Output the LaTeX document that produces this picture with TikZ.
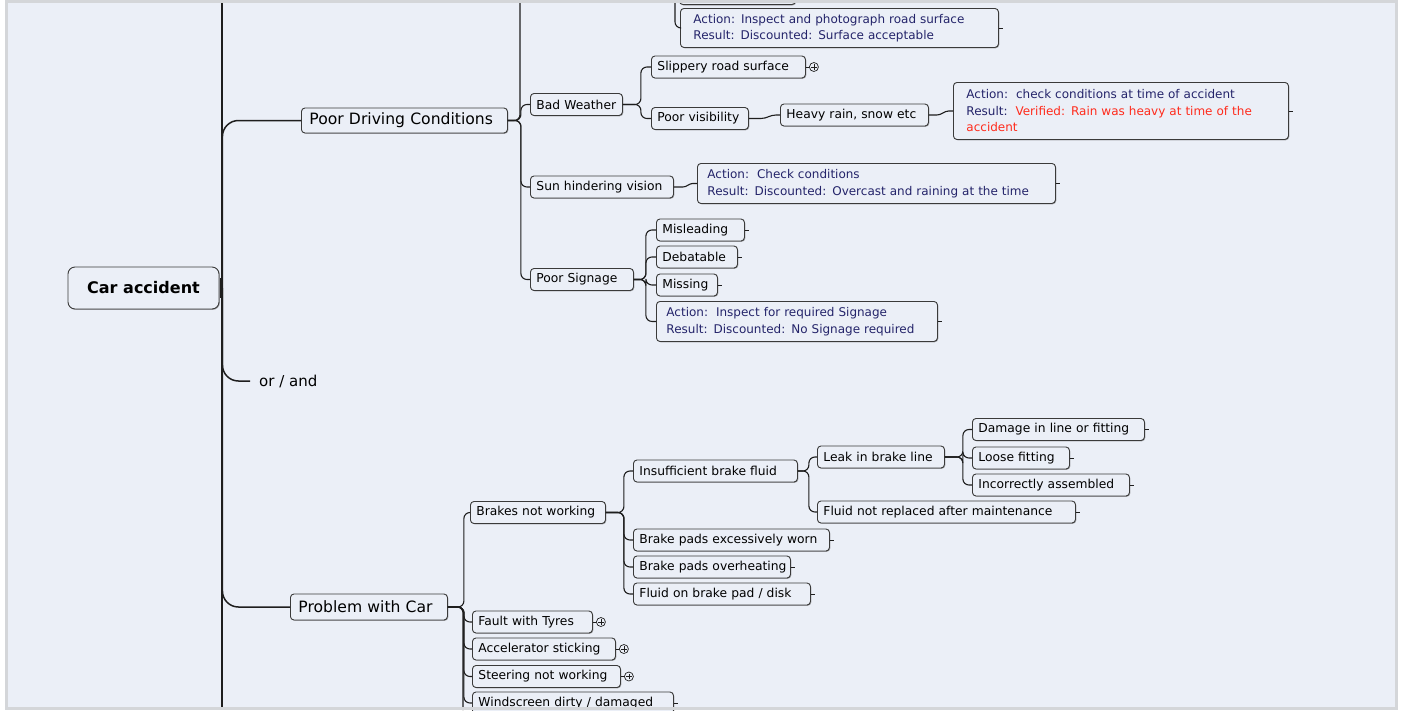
\documentclass[tikz,border=0pt]{standalone}
\usepackage{fontspec}
\setmainfont{DejaVu Sans}
\usetikzlibrary{shadows,calc}
\definecolor{bgc}{HTML}{EBEFF7}
\definecolor{framec}{HTML}{D4D6D9}
\definecolor{navy}{HTML}{24246A}
\definecolor{redt}{HTML}{FF2B1C}
\definecolor{ink}{HTML}{1E1E1E}
\definecolor{boxline}{HTML}{3A3A3A}
\begin{document}
\begin{tikzpicture}[x=1pt,y=-1pt,
  conn/.style={draw=ink, line width=1.1pt, rounded corners=6pt},
  sconn/.style={draw=ink, line width=1.1pt},
  mainconn/.style={draw=ink, line width=1.5pt, rounded corners=16pt},
  stub/.style={draw=ink, line width=0.9pt},
  boxbase/.style={draw=boxline, line width=0.9pt, rounded corners=3.5pt, fill=bgc,
    drop shadow={shadow xshift=0.8pt, shadow yshift=-0.8pt, fill=black!60, opacity=0.55}},
  nb/.style={boxbase, anchor=west, align=left, inner xsep=6pt, inner ysep=0pt,
    minimum height=22pt, font=\fontsize{12.3}{14}\selectfont, text=black},
  bignode/.style={boxbase, anchor=west, align=left, inner xsep=8pt, inner ysep=0pt,
    font=\fontsize{15.6}{18}\selectfont, text=black},
  ab/.style={boxbase, anchor=north west, align=left, inner ysep=0pt,
    font=\fontsize{12}{16.5}\selectfont, text=navy},
  plusc/.style={circle, draw=ink, line width=0.7pt, minimum size=9pt, inner sep=0pt,
    path picture={\draw[line width=0.7pt] ([xshift=-2.6pt]path picture bounding box.center) -- ([xshift=2.6pt]path picture bounding box.center)
      ([yshift=-2.6pt]path picture bounding box.center) -- ([yshift=2.6pt]path picture bounding box.center);}}
]
\useasboundingbox (0,0) rectangle (1401,710);
\fill[white] (0,0) rectangle (1401,710);
\fill[bgc] (6.5,1.5) rectangle (1396.5,708.5);

% ---------- nodes ----------
\node[boxbase, rounded corners=7pt, minimum width=151pt, minimum height=42pt, inner sep=0pt,
  font=\bfseries\fontsize{16}{18}\selectfont] (root) at (143.5,288) {Car accident};

\node[bignode, text width=190pt, minimum height=25pt] (pdc) at (301,120.5) {\mbox{Poor Driving Conditions}};
\node[anchor=west, inner xsep=9pt, inner ysep=0pt, font=\fontsize{15}{18}\selectfont] (oa) at (250,381) {or / and};
\node[bignode, text width=141pt, minimum height=26pt] (pwc) at (290,607) {\mbox{Problem with Car}};

% cut-off node at top
\node[nb, anchor=south west, text width=104pt] (cut) at (679,5) {};

\node[ab, inner xsep=13pt, text width=292pt, minimum height=39pt] (a1) at (680,8)
  {\mbox{Action: Inspect and photograph road surface}\\\mbox{Result: Discounted: Surface acceptable}};
\node[nb, text width=80pt] (bw) at (530,104.5) {\mbox{Bad Weather}};
\node[nb, text width=142pt] (srs) at (651,67) {\mbox{Slippery road surface}};
\node[nb, text width=85pt] (pv) at (651,118.5) {\mbox{Poor visibility}};
\node[nb, text width=136pt] (hr) at (780,115) {\mbox{Heavy rain, snow etc}};
\node[ab, inner xsep=13pt, text width=309pt, minimum height=57pt] (a2) at (953,82)
  {\mbox{Action:\ \ check conditions at time of accident}\\\mbox{Result:\ \ \textcolor{redt}{Verified: Rain was heavy at time of the}}\\\mbox{\textcolor{redt}{accident}}};
\node[nb, text width=131pt] (shv) at (530,187) {\mbox{Sun hindering vision}};
\node[ab, inner xsep=10pt, text width=338pt, minimum height=40pt] (a3) at (697,163)
  {\mbox{Action:\ \ Check conditions}\\\mbox{Result: Discounted: Overcast and raining at the time}};
\node[nb, text width=91pt] (ps) at (530,279.5) {\mbox{Poor Signage}};
\node[nb, text width=76pt] (mis) at (656,230) {\mbox{Misleading}};
\node[nb, text width=69pt] (deb) at (656,257) {\mbox{Debatable}};
\node[nb, text width=49pt] (miss) at (656,285) {\mbox{Missing}};
\node[ab, inner xsep=10pt, text width=261pt, minimum height=40pt] (a4) at (656,301)
  {\mbox{Action:\ \ Inspect for required Signage}\\\mbox{Result: Discounted: No Signage required}};

\node[nb, text width=123pt] (bnw) at (470,512.5) {\mbox{Brakes not working}};
\node[nb, text width=108pt] (fwt) at (472,622) {\mbox{Fault with Tyres}};
\node[nb, text width=131pt] (acc) at (472,649) {\mbox{Accelerator sticking}};
\node[nb, text width=136pt] (snw) at (472,676.5) {\mbox{Steering not working}};
\node[nb, text width=189pt] (wdd) at (472,703) {\mbox{Windscreen dirty / damaged}};
\node[nb, text width=152pt] (ibf) at (633,471) {\mbox{Insufficient brake fluid}};
\node[nb, text width=184pt] (bpew) at (633,540) {\mbox{Brake pads excessively worn}};
\node[nb, text width=145pt] (bpo) at (633,567) {\mbox{Brake pads overheating}};
\node[nb, text width=165pt] (fobp) at (633,594) {\mbox{Fluid on brake pad / disk}};
\node[nb, text width=115pt] (lbl) at (817,457) {\mbox{Leak in brake line}};
\node[nb, text width=246pt] (fnr) at (817,512) {\mbox{Fluid not replaced after maintenance}};
\node[nb, text width=160pt] (dlf) at (972,429.5) {\mbox{Damage in line or fitting}};
\node[nb, text width=85pt] (lf) at (972,458) {\mbox{Loose fitting}};
\node[nb, text width=145pt] (ia) at (972,485) {\mbox{Incorrectly assembled}};

% plus icons
\node[plusc] (srsp) at ($(srs.east)+(8,0)$) {};
\node[plusc] (fwtp) at ($(fwt.east)+(8,0)$) {};
\node[plusc] (accp) at ($(acc.east)+(8,0)$) {};
\node[plusc] (snwp) at ($(snw.east)+(8,0)$) {};

% ---------- connectors ----------
\coordinate (mtop) at (222,3);
\coordinate (mbot) at (222,709);
\draw[ink, line width=1.8pt] (mtop) -- (mbot);
\draw[ink, line width=3.5pt] ([xshift=2pt,yshift=10pt]root.east) -- ([xshift=2pt,yshift=-10pt]root.east);
\draw[mainconn] ($(root.east)+(3,0)$) |- (pdc.west);
\draw[mainconn] ($(root.east)+(3,0)$) |- (oa.west);
\draw[mainconn] ($(root.east)+(3,0)$) |- (pwc.west);

% Poor Driving Conditions
\coordinate (pdctop) at (520,3);
\draw[conn] (pdc.east) -- (pdc.east -| pdctop) -- (pdctop);
\draw[conn] (pdc.east) -- ++(13,0) |- (bw.west);
\draw[conn] (pdc.east) -- ++(13,0) |- (shv.west);
\draw[conn] (pdc.east) -- ++(13,0) |- (ps.west);
\coordinate (a1top) at (675,3);
\draw[conn] (a1top) |- (a1.west);

\draw[conn] (bw.east) -- ++(18,0) |- (srs.west);
\draw[conn] (bw.east) -- ++(18,0) |- (pv.west);
\draw[sconn] (pv.east) -- ++(12,0) to[out=0,in=180] ([xshift=-4pt]hr.west) -- (hr.west);
\draw[sconn] (hr.east) -- ++(8,0) to[out=0,in=180] ([xshift=-4pt]a2.west) -- (a2.west);
\draw[sconn] (shv.east) -- ++(9,0) to[out=0,in=180] ([xshift=-4pt]a3.west) -- (a3.west);
\draw[conn] (ps.east) -- ++(12,0) |- (mis.west);
\draw[conn] (ps.east) -- ++(12,0) |- (deb.west);
\draw[conn] (ps.east) -- ++(12,0) |- (miss.west);
\draw[conn] (ps.east) -- ++(12,0) |- (a4.west);

% Problem with Car
\coordinate (pwcbot) at (463,710);
\draw[conn] (pwc.east) -- (pwc.east -| pwcbot) -- (pwcbot);
\foreach \c in {bnw,fwt,acc,snw,wdd}
  \draw[conn] (pwc.east) -- ++(16,0) |- (\c.west);
\foreach \c in {ibf,bpew,bpo,fobp}
  \draw[conn] (bnw.east) -- ++(18,0) |- (\c.west);
\foreach \c in {lbl,fnr}
  \draw[conn] (ibf.east) -- ++(11,0) |- (\c.west);
\foreach \c in {dlf,lf,ia}
  \draw[conn] (lbl.east) -- ++(18,0) |- (\c.west);

% stubs
\foreach \n in {a1,a2,a3,a4,mis,deb,miss,dlf,lf,ia,fnr,bpew,bpo,fobp,wdd}
  \draw[stub] (\n.east) -- ++(4,0);
\foreach \n in {srs,fwt,acc,snw}
  \draw[stub] (\n.east) -- (\n p.west);

% frame
\draw[framec, line width=3pt] (6.5,1.5) rectangle (1396.5,708.5);
\end{tikzpicture}
\end{document}
